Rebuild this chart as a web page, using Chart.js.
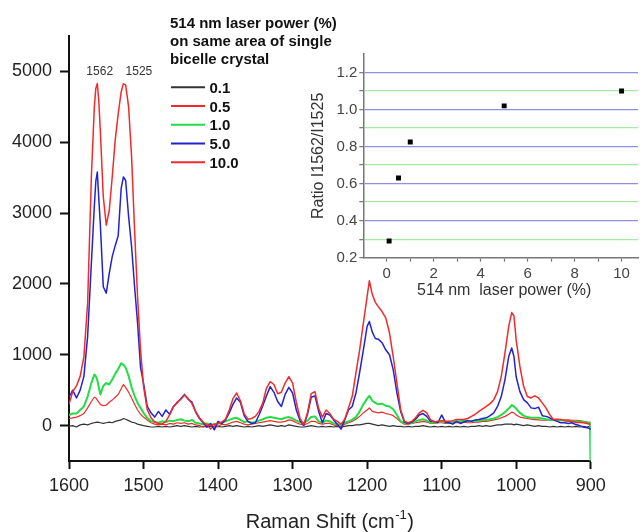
<!DOCTYPE html>
<html>
<head>
<meta charset="utf-8">
<script src="https://cdn.jsdelivr.net/npm/chart.js@4"></script>
<style>
  html, body { margin:0; padding:0; background:#fff; }
  #wrap { position:relative; width:642px; height:532px; }
  #main { position:absolute; left:0; top:0; }
  #inset { position:absolute; left:300px; top:30px; pointer-events:none; }
</style>
</head>
<body>
<div id="wrap">
  <canvas id="main" width="642" height="532"></canvas>
  <canvas id="inset" width="342" height="275"></canvas>
</div>
<script>
// ---------------- DATA ----------------
const wavenumbers = [
  1600,1595,1590,1585,1580,1575,1570,1566,1564,1562,1560,1558,
  1554,1550,1546,1542,1538,1534,1530,1527,1524,1520,
  1516,1512,1508,1504,1500,1495,1490,1485,1480,1475,
  1470,1465,1460,1455,1450,1445,1440,1435,1430,1425,
  1420,1415,1410,1405,1400,1395,1390,1385,1380,1375,
  1370,1365,1360,1355,1350,1345,1340,1335,1330,1325,
  1320,1315,1310,1305,1300,1295,1290,1285,1280,1275,
  1270,1265,1260,1255,1250,1245,1240,1235,1230,1225,
  1220,1215,1210,1205,1200,1197,1193,1189,1185,1180,
  1175,1170,1165,1160,1155,1150,1145,1140,1135,1130,
  1125,1120,1115,1110,1105,1100,1095,1090,1085,1080,
  1075,1070,1065,1060,1055,1050,1045,1040,1035,1030,
  1025,1020,1015,1010,1006,1003,1000,995,990,985,
  980,975,970,965,960,955,950,945,940,935,
  930,925,920,915,910,905,901,900
];

const power01 = [
  -10,0,-20,10,20,10,30,40,45,50,45,40,
  30,40,50,40,60,70,80,100,90,70,
  50,40,20,10,0,-10,-20,-20,-10,-20,
  -10,-20,-10,0,-10,0,-10,-20,-10,-20,
  -10,-20,-10,-20,-10,-20,-10,0,-10,0,
  -10,-20,-10,-20,-10,0,-10,0,10,0,
  -10,0,-10,10,0,-10,-20,-20,-10,0,
  -10,-20,-10,-20,-10,-20,-10,-20,-10,0,
  0,10,10,20,30,30,20,10,0,10,
  0,-10,0,-10,-10,-20,-10,-20,-10,-10,
  0,-10,-20,-10,-20,-10,-20,-10,-20,-10,
  -20,-10,-20,-10,-10,0,-10,0,-10,0,
  10,10,20,20,20,10,20,10,0,10,
  0,-10,0,-10,-10,-20,-10,-20,-10,-20,
  -10,-20,-10,-20,-10,-20,-10,-10
];

const power05 = [
  100,110,120,140,170,250,340,400,390,360,330,300,
  280,290,330,360,400,440,520,580,540,470,
  390,300,220,160,120,80,40,20,10,20,
  10,30,20,40,30,40,20,30,10,0,
  -20,10,-50,0,-10,20,10,30,50,60,
  40,20,10,20,30,40,50,60,70,60,
  50,50,60,80,70,40,20,10,30,60,
  60,30,20,30,30,10,0,-10,20,40,
  60,90,130,180,220,250,200,190,180,190,
  170,160,140,100,50,20,20,30,40,50,
  60,50,30,30,40,40,30,30,40,40,
  40,50,40,40,50,50,60,60,70,80,
  90,110,130,160,190,180,150,120,110,100,
  90,85,80,75,75,80,85,90,85,80,
  80,75,75,70,60,50,45,45
];

const power1 = [
  150,170,170,220,270,410,600,720,700,640,540,440,
  560,600,580,650,730,800,880,860,820,700,
  540,420,320,250,180,110,60,50,40,60,
  50,70,60,80,90,70,60,80,40,30,
  20,30,10,20,30,40,60,80,100,110,
  80,50,60,40,50,70,90,110,120,110,
  100,90,110,120,100,70,50,40,70,120,
  130,60,40,70,60,30,20,10,40,60,
  80,120,200,300,380,420,350,320,300,310,
  280,270,230,150,60,40,30,40,60,80,
  90,70,40,40,50,60,50,40,50,60,
  60,70,60,60,70,70,80,80,90,100,
  120,150,190,240,290,270,240,180,140,120,
  110,110,110,100,90,80,80,75,75,70,
  65,60,60,55,50,45,40,-700
];

const power5 = [
  400,500,390,500,695,1260,2290,3100,3450,3580,3200,2850,
  1960,1870,2150,2385,2540,2680,3350,3510,3460,2950,
  2525,1960,1450,820,600,270,180,120,200,130,
  220,160,270,320,380,440,370,330,190,100,
  40,-20,30,-60,60,30,80,180,300,390,
  330,140,60,30,40,150,280,420,550,470,
  340,270,440,540,460,220,70,0,160,400,
  420,200,40,170,150,80,20,-50,80,220,
  270,460,750,1070,1400,1470,1320,1230,1220,1170,
  1070,1000,790,460,200,50,30,50,90,150,
  170,130,60,60,40,150,50,40,20,60,
  30,50,70,60,80,85,100,110,140,180,
  270,410,650,975,1095,975,690,480,366,320,
  250,240,260,140,130,110,80,60,40,40,
  30,40,14,0,-20,-30,-40,-60
];

const power10 = [
  300,480,560,695,975,1730,3510,4500,4760,4830,4580,4170,
  3230,2830,3040,3510,4030,4400,4710,4825,4810,4500,
  3790,2760,1820,1070,555,225,110,50,30,20,
  60,150,260,330,370,430,380,310,200,110,
  50,10,0,20,30,50,90,220,380,460,
  350,170,90,100,130,200,320,530,620,580,
  450,470,600,690,600,330,100,10,180,450,
  480,240,120,220,170,90,60,20,90,250,
  410,745,1070,1450,1820,2045,1850,1740,1680,1610,
  1520,1310,975,600,225,60,40,60,110,180,
  215,180,85,50,60,70,60,60,70,85,
  85,85,100,130,160,200,235,270,310,366,
  480,695,1025,1400,1595,1550,1210,835,555,410,
  390,420,390,320,250,155,85,85,85,70,
  60,60,45,45,40,30,20,15
];

const seriesLabels = ['0.1', '0.5', '1.0', '5.0', '10.0'];
const xTicks = [1600, 1500, 1400, 1300, 1200, 1100, 1000, 900];
const yTicks = [0, 1000, 2000, 3000, 4000, 5000];
const peakLabels = ['1562', '1525'];
const peakPositions = [1562, 1525];
const legendTitle = ['514 nm laser power (%)', 'on same area of single', 'bicelle crystal'];

const insetPower = [0.1, 0.5, 1.0, 5.0, 10.0];
const insetRatio = [0.29, 0.63, 0.825, 1.02, 1.10];
const insetXTicks = [0, 1, 2, 3, 4, 5, 6, 7, 8, 9, 10];
const insetYTicks = [0.2, 0.3, 0.4, 0.5, 0.6, 0.7, 0.8, 0.9, 1.0, 1.1, 1.2];

// ---------------- STYLE ----------------
const FONT = "'Liberation Sans', Arial, Helvetica, sans-serif";
Chart.defaults.font.family = FONT;
const colors = ['#333333', '#f22a2a', '#22dd44', '#2222d0', '#f22a2a'];
const widths = [1.2, 1.2, 2, 1.5, 1.5];
const seriesList = [power01, power05, power1, power5, power10];
const drawOrder = [4, 3, 2, 1, 0]; // lower = drawn on top

function toPoints(vals) {
  return wavenumbers.map((w, i) => ({ x: w, y: vals[i] }));
}

const datasets = seriesList.map((s, i) => ({
  label: seriesLabels[i],
  data: toPoints(s),
  borderColor: colors[i],
  borderWidth: widths[i],
  pointRadius: 0,
  tension: 0,
  borderJoinStyle: 'round',
  order: drawOrder[i]
}));

const mainOverlay = {
  id: 'mainOverlay',
  afterDraw(chart) {
    const ctx = chart.ctx;
    const xs = chart.scales.x;
    ctx.save();
    ctx.fillStyle = '#111';
    ctx.font = 'bold 15px ' + FONT;
    ctx.textAlign = 'left';
    ctx.textBaseline = 'alphabetic';
    const titleY = [28, 46, 63.5];
    legendTitle.forEach((t, i) => ctx.fillText(t, 170, titleY[i]));
    const entryY = [92.7, 111.5, 130.2, 149, 167.7];
    seriesLabels.forEach((lab, i) => {
      ctx.strokeStyle = colors[i];
      ctx.lineWidth = 2;
      ctx.beginPath();
      ctx.moveTo(171, entryY[i] - 5.5);
      ctx.lineTo(205, entryY[i] - 5.5);
      ctx.stroke();
      ctx.fillStyle = '#111';
      ctx.font = 'bold 15px ' + FONT;
      ctx.fillText(lab, 209.5, entryY[i]);
    });
    ctx.font = '12px ' + FONT;
    ctx.fillStyle = '#333';
    ctx.textAlign = 'center';
    const offs = [2.4, 14];
    peakLabels.forEach((t, i) => {
      ctx.fillText(t, xs.getPixelForValue(peakPositions[i]) + offs[i], 75);
    });
    const cx = (chart.chartArea.left + chart.chartArea.right) / 2;
    const base = 528;
    ctx.fillStyle = '#222';
    ctx.font = '20px ' + FONT;
    const p1 = 'Raman Shift (cm';
    const p3 = ')';
    const w1 = ctx.measureText(p1).width;
    const w3 = ctx.measureText(p3).width;
    ctx.font = '13px ' + FONT;
    const p2 = '-1';
    const w2 = ctx.measureText(p2).width;
    const total = w1 + w2 + w3 + 1;
    let x0 = cx - total / 2;
    ctx.textAlign = 'left';
    ctx.font = '20px ' + FONT;
    ctx.fillText(p1, x0, base);
    ctx.font = '13px ' + FONT;
    ctx.fillText(p2, x0 + w1 + 0.5, base - 9);
    ctx.font = '20px ' + FONT;
    ctx.fillText(p3, x0 + w1 + w2 + 1, base);
    ctx.restore();
  }
};

new Chart(document.getElementById('main'), {
  type: 'line',
  data: { datasets },
  options: {
    responsive: false,
    animation: false,
    layout: { padding: { top: 36, right: 51.3, left: 0, bottom: 0 } },
    plugins: { legend: { display: false }, tooltip: { enabled: false } },
    scales: {
      x: {
        type: 'linear', reverse: true, min: 900, max: 1600,
        afterBuildTicks: s => { s.ticks = xTicks.map(v => ({ value: v })); },
        afterFit: s => { s.height = 71; },
        grid: { drawOnChartArea: false, drawTicks: true, tickLength: 8, tickWidth: 2, tickColor: '#111' },
        border: { display: true, color: '#111', width: 2 },
        ticks: { font: { size: 18 }, color: '#222', padding: 6, maxRotation: 0, autoSkip: false,
                 callback: v => String(v) }
      },
      y: {
        type: 'linear', min: -500, max: 5500,
        afterBuildTicks: s => { s.ticks = yTicks.map(v => ({ value: v })); },
        afterFit: s => { s.width = 69; },
        grid: { drawOnChartArea: false, drawTicks: true, tickLength: 9, tickWidth: 2, tickColor: '#111' },
        border: { display: true, color: '#111', width: 2 },
        ticks: { font: { size: 18 }, color: '#222', padding: 8, callback: v => String(v) }
      }
    }
  },
  plugins: [mainOverlay]
});

// ---------------- INSET ----------------
const isMajorY = v => Math.abs(Math.round(v * 5) - v * 5) < 1e-6;
const insetOverlay = {
  id: 'insetOverlay',
  afterDraw(chart) {
    const ctx = chart.ctx;
    const ca = chart.chartArea;
    ctx.save();
    ctx.fillStyle = '#333';
    ctx.font = '16px ' + FONT;
    ctx.textAlign = 'center';
    ctx.textBaseline = 'alphabetic';
    ctx.fillText('514 nm  laser power (%)', chart.scales.x.getPixelForValue(5), 265);
    ctx.translate(18.3, (ca.top + ca.bottom) / 2);
    ctx.rotate(-Math.PI / 2);
    ctx.textBaseline = 'middle';
    ctx.fillText('Ratio I1562/I1525', 0, 0);
    ctx.restore();
  }
};

new Chart(document.getElementById('inset'), {
  type: 'scatter',
  data: {
    datasets: [{
      data: insetPower.map((p, i) => ({ x: p, y: insetRatio[i] })),
      pointStyle: 'rect', pointRadius: 3.5,
      backgroundColor: '#000', borderColor: '#000', borderWidth: 0
    }]
  },
  options: {
    responsive: false,
    animation: false,
    layout: { padding: { top: 24, right: 0, left: 0, bottom: 0 } },
    plugins: { legend: { display: false }, tooltip: { enabled: false } },
    scales: {
      x: {
        type: 'linear', min: -1, max: 10.7,
        afterBuildTicks: s => { s.ticks = insetXTicks.map(v => ({ value: v })); },
        afterFit: s => { s.height = 47.3; },
        grid: { drawOnChartArea: false, drawTicks: true, tickLength: 4, tickWidth: 1.2, tickColor: '#777' },
        border: { display: true, color: '#777', width: 1.5 },
        ticks: { font: { size: 15 }, color: '#444', padding: 3, maxRotation: 0, autoSkip: false,
                 callback: v => (v % 2 === 0 ? String(v) : '') }
      },
      y: {
        type: 'linear', min: 0.2, max: 1.3,
        afterBuildTicks: s => { s.ticks = insetYTicks.map(v => ({ value: v })); },
        afterFit: s => { s.width = 63.3; },
        grid: {
          drawOnChartArea: true, drawTicks: true, tickLength: 4, tickWidth: 1.2, tickColor: '#777',
          lineWidth: 1.3,
          color: c => {
            const v = c.tick ? c.tick.value : 0;
            if (Math.abs(v - 0.2) < 1e-6) return 'rgba(0,0,0,0)';
            return isMajorY(v) ? '#8f8fe4' : '#a4eaa4';
          }
        },
        border: { display: true, color: '#777', width: 1.5 },
        ticks: { font: { size: 15 }, color: '#444', padding: 2, autoSkip: false,
                 callback: v => (isMajorY(v) ? v.toFixed(1) : '') }
      }
    }
  },
  plugins: [insetOverlay]
});
</script>
</body>
</html>
